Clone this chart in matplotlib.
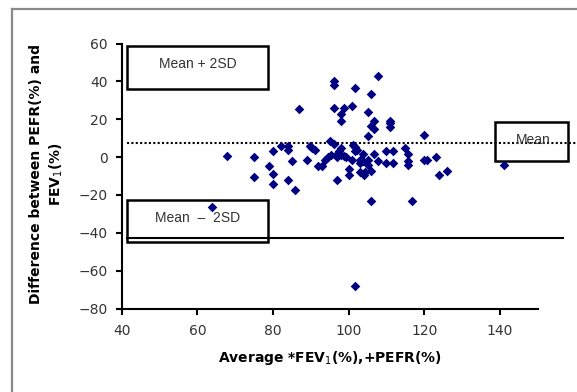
import matplotlib
matplotlib.use("Agg")
import matplotlib.pyplot as plt
from matplotlib.lines import Line2D
from matplotlib.patches import Rectangle

# average of FEV1(%) and PEFR(%)
avg_vals = [63.8, 67.9, 75.0, 75.0, 79.0, 79.9, 79.9, 79.9, 82.0, 84.0, 84.0, 84.0,
            84.9, 85.8, 87.0, 88.9, 89.8, 90.3, 91.0, 91.8, 93.0, 93.8, 94.5, 95.0,
            95.2, 96.0, 96.0, 96.0, 96.0, 96.8, 97.0, 97.5, 97.9, 97.9, 98.8, 97.9,
            98.1, 98.7, 99.2, 100.0, 100.0, 101.0, 101.0, 101.2, 101.7, 101.8, 101.8,
            101.8, 102.9, 102.9, 103.9, 103.9, 104.1, 105.0, 105.0, 105.0, 105.0,
            105.9, 105.9, 105.9, 105.9, 106.8, 106.8, 106.8, 107.7, 107.7, 110.0,
            110.0, 110.9, 110.9, 110.9, 111.8, 111.8, 114.9, 115.7, 115.7, 115.7,
            116.7, 119.8, 119.8, 120.7, 123.0, 123.9, 126.0, 141.0,
            97.0, 102.2, 103.0, 104.3]
# difference PEFR(%) - FEV1(%)
diff_vals = [-26.6, 0.7, 0.0, -10.6, -4.9, 3.0, -9.2, -14.3, 6.0, 6.0, 3.5, -12.3,
             -1.9, -17.3, 25.2, -1.4, 5.6, 4.8, 3.5, -4.9, -4.9, -1.4, -0.2, 8.3,
             0.9, 40.0, 38.2, 25.9, 7.0, 0.0, -12.3, 3.3, 19.2, 22.7, 25.9, 4.8,
             1.2, 0.4, 0.0, -6.3, -9.3, 27.0, -1.4, 6.5, 5.1, 36.3, 3.3,
             -68.3, -3.2, -7.9, 1.6, -2.3, -9.3, 10.9, 23.9, -4.0, -1.4,
             33.1, 16.2, -7.6, -23.4, 19.2, 14.8, 1.8, 43.0, -1.9, 3.0,
             -3.3, 19.2, 18.0, 15.8, 3.0, -3.3, 4.8, 1.8, -1.9, -4.4,
             -23.4, 11.6, -1.4, -1.4, 0.0, -9.3, -7.6, -4.4,
             1.8, 4.0, -1.5, -8.0]

mean_diff = 7.7
lower_limit = -43.0

fig = plt.figure(figsize=(5.77, 3.92), dpi=100)
ax = fig.add_axes([0.211, 0.213, 0.721, 0.676])

# outer grey frame (cut at right/bottom)
fig.add_artist(Line2D([0.020, 0.020], [0.0, 0.977], transform=fig.transFigure,
                      color="#8a8a8a", lw=1.6))
fig.add_artist(Line2D([0.020, 1.0], [0.977, 0.977], transform=fig.transFigure,
                      color="#8a8a8a", lw=1.6))

ax.scatter(avg_vals, diff_vals, marker="D", s=24, color="#000080", zorder=3,
           linewidths=0)

ax.plot([41.3, 160.5], [mean_diff, mean_diff], ls=(0, (1, 1.1)), color="black",
        lw=1.5, clip_on=False, zorder=2)
ax.plot([41.3, 156.8], [lower_limit, lower_limit], color="black", lw=1.5,
        clip_on=False, zorder=2)

boxes = [(41.3, 36.1, 37.3, 22.4, "Mean + 2SD", 60.0, 49.0),
         (41.3, -44.9, 37.3, 22.0, "Mean  \u2013  2SD", 60.0, -32.0),
         (138.6, -2.3, 19.4, 21.0, "Mean", 148.7, 9.0)]
for x0, y0, w, h, txt, tx, ty in boxes:
    ax.add_patch(Rectangle((x0, y0), w, h, fill=False, edgecolor="black", lw=1.8,
                           clip_on=False, zorder=2))
    ax.text(tx, ty, txt, ha="center", va="center", fontsize=10, color="#333333",
            family="Liberation Sans", clip_on=False)

ax.set_xlim(40, 150)
ax.set_ylim(-80, 60)
ax.set_xticks(range(40, 141, 20))
ax.set_yticks(range(-80, 61, 20))
for s in ["top", "right"]:
    ax.spines[s].set_visible(False)
for s in ["left", "bottom"]:
    ax.spines[s].set_linewidth(1.5)
ax.tick_params(direction="out", length=4, width=1.5, labelsize=10,
               labelcolor="#333333")
ax.tick_params(axis="x", pad=7)
ax.tick_params(axis="y", pad=6)

fig.text(0.081, 0.556, "Difference between PEFR(%) and\nFEV$_1$(%)", rotation=90,
         ha="center", va="center", fontsize=10, fontweight="bold",
         multialignment="center", linespacing=1.35)
fig.text(0.572, 0.087, "Average *FEV$_1$(%),+PEFR(%)", ha="center", va="center",
         fontsize=10, fontweight="bold")

fig.savefig("out.png", dpi=100)
